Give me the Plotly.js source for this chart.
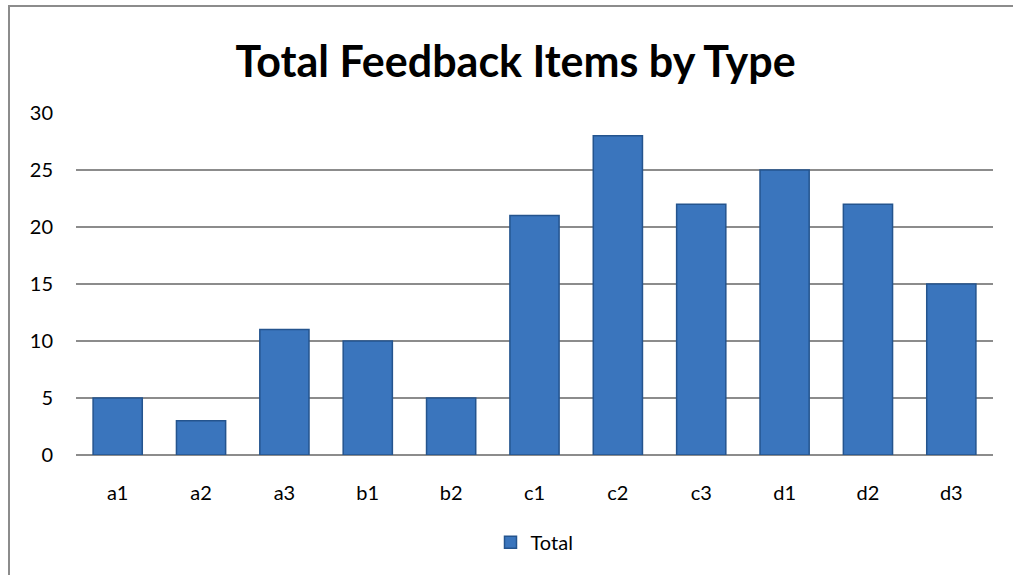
<!DOCTYPE html>
<html>
<head>
<meta charset="utf-8">
<script src="https://cdn.plot.ly/plotly-3.0.1.min.js"></script>
<style>
html,body{margin:0;padding:0;background:#fff;}
#wrap{position:relative;width:1013px;height:575px;overflow:hidden;}
#chart{width:1013px;height:575px;}
#frame{position:absolute;left:8px;top:5px;width:1100px;height:700px;border:2px solid #8c8c8c;box-sizing:border-box;pointer-events:none;}
</style>
</head>
<body>
<div id="wrap">
<div id="chart"></div>
<div id="frame"></div>
</div>
<script>
const categories = ["a1","a2","a3","b1","b2","c1","c2","c3","d1","d2","d3"];
const totals = [5,3,11,10,5,21,28,22,25,22,15];
const yTicks = [0,5,10,15,20,25,30];

const trace = {
  type: "bar",
  x: categories,
  y: totals,
  name: "Total",
  marker: {color: "#3a75bd", line: {color: "#24548e", width: 1.5}},
  hoverinfo: "x+y"
};

const layout = {
  width: 1013, height: 575,
  margin: {l: 76, r: 20, t: 113, b: 120},
  paper_bgcolor: "#ffffff",
  plot_bgcolor: "#ffffff",
  font: {family: "Lato, 'Open Sans', sans-serif", color: "#000", size: 20},
  title: {text: "<b>Total Feedback Items by Type</b>", x: 0.509, xref: "container", xanchor: "center",
          y: 0.919, yref: "container",
          font: {size: 43, family: "Lato, 'Open Sans', sans-serif", color: "#000"}},
  bargap: 0.41,
  xaxis: {type: "category", showgrid: false, showline: false, ticks: "", tickfont: {size: 20}, ticklabelstandoff: 24},
  yaxis: {range: [0, 30], tickvals: yTicks, showgrid: true, gridcolor: "#8c8c8c", gridwidth: 2,
          zeroline: true, zerolinecolor: "#8c8c8c", zerolinewidth: 2, showline: false, ticks: "",
          tickfont: {size: 20}, ticklabelstandoff: 22},
  showlegend: true,
  legend: {orientation: "h", x: 0.5, xanchor: "center", y: -0.255, yanchor: "middle", font: {size: 20}}
};

Plotly.newPlot("chart", [trace], layout, {displayModeBar: false, staticPlot: true});
</script>
</body>
</html>
